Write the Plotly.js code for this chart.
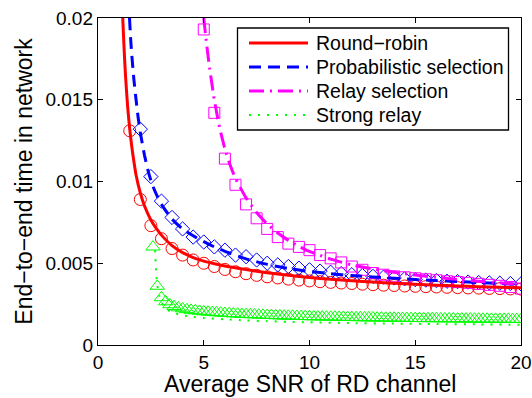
<!DOCTYPE html>
<html>
<head>
<meta charset="utf-8">
<script src="https://cdn.plot.ly/plotly-3.0.1.min.js"></script>
<style>html,body{margin:0;padding:0;background:#fff;}#chart{width:532px;height:398px;}</style>
</head>
<body>
<div id="chart"></div>
<script>
// ---------- data ----------
const seriesNames = ["Round\u2212robin", "Probabilistic selection", "Relay selection", "Strong relay"];
const xTitle = "Average SNR of RD channel";
const yTitle = "End\u2212to\u2212end time in network";

// analytical curves (lines)
const rrLineX = [1.17,1.2,1.25,1.3,1.4,1.5,1.6,1.7,1.8,2.0,2.2,2.5,2.8,3.0,3.5,4.0,4.5,5.0,5.5,6.0,7.0,8.0,9.0,10,11,12,13,14,15,16,17,18,19,20];
const rrLineY = [0.0200,0.0191,0.0177,0.0165,0.0146,0.0132,0.0121,0.0112,0.0104,0.0093,0.0085,0.00765,0.00705,0.00672,0.00608,0.00565,0.00535,0.00513,0.00497,0.00483,0.00461,0.00442,0.00426,0.00413,0.00402,0.00393,0.00385,0.00378,0.00372,0.00366,0.00361,0.00357,0.00353,0.0035];

const psLineX = [1.49,1.55,1.6,1.7,1.8,1.9,2.0,2.2,2.4,2.6,2.8,3.0,3.5,4.0,4.5,5.0,5.5,6.0,7.0,8.0,9.0,10,11,12,13,14,15,16,17,18,19,20];
const psLineY = [0.0200,0.0186,0.0177,0.0162,0.0150,0.0139,0.0130,0.0116,0.0105,0.0097,0.0091,0.0086,0.0077,0.0071,0.00668,0.00632,0.00600,0.00573,0.00527,0.00493,0.00468,0.00450,0.00436,0.00425,0.00416,0.00408,0.00401,0.00394,0.00388,0.00382,0.00376,0.0037];

const rsLineX = [5.0,5.1,5.25,5.5,5.75,6.0,6.25,6.5,7.0,7.5,8.0,8.5,9.0,9.5,10,11,12,13,14,15,16,17,18,19,20];
const rsLineY = [0.0200,0.0188,0.0172,0.0150,0.0133,0.0120,0.0110,0.0102,0.0090,0.0081,0.0074,0.00685,0.0064,0.00603,0.00572,0.00525,0.0049,0.00465,0.00445,0.00428,0.00414,0.00401,0.0039,0.0038,0.0037];

const srLineX = [2.7,2.75,2.8,2.9,3.0,3.2,3.5,4.0,4.5,5.0,6,7,8,9,10,12,14,16,18,20];
const srLineY = [0.0058,0.0045,0.0037,0.0030,0.0026,0.00225,0.0020,0.00182,0.00172,0.00165,0.00157,0.00150,0.00146,0.00142,0.00139,0.00134,0.00131,0.00128,0.00126,0.00124];

// simulation points (markers)
const rrSimX = [1.5,2,2.5,3,3.5,4,4.5,5,5.5,6,6.5,7,7.5,8,8.5,9,9.5,10,10.5,11,11.5,12,12.5,13,13.5,14,14.5,15,15.5,16,16.5,17,17.5,18,18.5,19,19.5,20];
const rrSimY = [0.0131,0.0089,0.0073,0.0065,0.0059,0.0055,0.0052,0.0050,0.0048,0.00462,0.00448,0.00436,0.00426,0.00417,0.0041,0.00403,0.00397,0.00392,0.00387,0.00383,0.00379,0.00376,0.00372,0.00369,0.00366,0.00364,0.00361,0.00359,0.00357,0.00355,0.00353,0.00351,0.00349,0.00348,0.00346,0.00345,0.00343,0.00342];

const psSimX = [2,2.5,3,3.5,4,4.5,5,5.5,6,6.5,7,7.5,8,8.5,9,9.5,10,10.5,11,11.5,12,12.5,13,13.5,14,14.5,15,15.5,16,16.5,17,17.5,18,18.5,19,19.5,20];
const psSimY = [0.0132,0.0103,0.0088,0.0078,0.0071,0.0066,0.0063,0.0060,0.0058,0.0055,0.0054,0.0052,0.0050,0.0049,0.0048,0.0047,0.0046,0.00452,0.00445,0.00437,0.0043,0.00425,0.0042,0.00415,0.0041,0.00405,0.0040,0.00397,0.00394,0.0039,0.00388,0.00385,0.00382,0.0038,0.00378,0.00376,0.00374];

const rsSimX = [5,5.5,6,6.5,7,7.5,8,8.5,9,9.5,10,10.5,11,11.5,12,12.5,13,13.5,14,14.5,15,15.5,16,16.5,17,17.5,18,18.5,19,19.5,20];
const rsSimY = [0.0193,0.0142,0.0114,0.0098,0.0086,0.00775,0.0071,0.0066,0.0062,0.0060,0.0058,0.0055,0.0053,0.00505,0.0048,0.0046,0.0044,0.0043,0.0042,0.00414,0.00408,0.00402,0.00396,0.0039,0.00385,0.0038,0.00374,0.00368,0.00362,0.00355,0.00345];

const srSimX = [2.6,2.8,3.0,3.2,3.4,3.6,3.8,4.0,4.2,4.4,4.6,4.8,5.0,5.2,5.4,5.6,5.8,6.0,6.2,6.4,6.6,6.8,7.0,7.2,7.4,7.6,7.8,8.0,8.2,8.4,8.6,8.8,9.0,9.2,9.4,9.6,9.8,10.0,10.2,10.4,10.6,10.8,11.0,11.2,11.4,11.6,11.8,12.0,12.2,12.4,12.6,12.8,13.0,13.2,13.4,13.6,13.8,14.0,14.2,14.4,14.6,14.8,15.0,15.2,15.4,15.6,15.8,16.0,16.2,16.4,16.6,16.8,17.0,17.2,17.4,17.6,17.8,18.0,18.2,18.4,18.6,18.8,19.0,19.2,19.4,19.6,19.8,20.0];
const srSimY = [0.0060,0.0036,0.0029,0.00265,0.00247,0.00236,0.00228,0.00222,0.00217,0.00213,0.00210,0.00207,0.00204,0.00202,0.00200,0.00198,0.00196,0.00194,0.00193,0.00191,0.00190,0.00188,0.00187,0.00186,0.00185,0.00184,0.00183,0.00182,0.00181,0.00180,0.00179,0.00178,0.00177,0.00177,0.00176,0.00175,0.00175,0.00174,0.00173,0.00173,0.00172,0.00172,0.00171,0.00171,0.00170,0.00170,0.00169,0.00169,0.00168,0.00168,0.00167,0.00167,0.00167,0.00166,0.00166,0.00165,0.00165,0.00165,0.00164,0.00164,0.00164,0.00163,0.00163,0.00163,0.00162,0.00162,0.00162,0.00162,0.00161,0.00161,0.00161,0.00161,0.00160,0.00160,0.00160,0.00160,0.00159,0.00159,0.00159,0.00159,0.00158,0.00158,0.00158,0.00158,0.00158,0.00157,0.00157,0.00157];

const xTickVals = [0,5,10,15,20];
const yTickVals = [0,0.005,0.01,0.015,0.02];
const yTickText = ["0","0.005","0.01","0.015","0.02"];

// ---------- styling ----------
const colors = ["#ff0000","#0000ff","#ff00ff","#00ff00"];
const dashes = ["solid","12px,7px","15px,6px,2px,6px","2px,7px"];
const widths = [3,3,3,2];
const FONT = "Liberation Sans, Arial, Helvetica, sans-serif";

const M = {l:98, r:11, t:18, b:53};
const W = 532, H = 398;
const PW = W - M.l - M.r, PH = H - M.t - M.b;
const px2x = p => (p - M.l) / PW;
const px2y = p => (H - M.b - p) / PH;

function markerTrace(x, y, sym, size, col) {
  return {x:x, y:y, type:"scatter", mode:"markers", showlegend:false, hoverinfo:"skip",
    marker:{symbol:sym, size:size, color:col, line:{color:col, width:1}}, cliponaxis:true};
}
function lineTrace(x, y, i) {
  return {x:x, y:y, type:"scatter", mode:"lines", name:seriesNames[i], showlegend:false, hoverinfo:"skip",
    line:{color:colors[i], width:widths[i], dash:dashes[i], shape:"spline", smoothing:0.6}};
}

const data = [
  markerTrace(rrSimX, rrSimY, "circle-open", 12, colors[0]),
  markerTrace(psSimX, psSimY, "diamond-open", 11, colors[1]),
  markerTrace(rsSimX, rsSimY, "square-open", 11, colors[2]),
  markerTrace(srSimX, srSimY, "triangle-up-open", 12.5, colors[3]),
  lineTrace(rrLineX, rrLineY, 0),
  lineTrace(psLineX, psLineY, 1),
  lineTrace(rsLineX, rsLineY, 2),
  lineTrace(srLineX, srLineY, 3)
];

// custom MATLAB-like legend
const shapes = [{type:"rect", xref:"paper", yref:"paper",
  x0:px2x(237.5), x1:px2x(508.5), y0:px2y(130), y1:px2y(28),
  line:{color:"#000", width:1.3}, fillcolor:"#fff", layer:"above"}];
const rowsPx = [43, 67, 91, 115];
const annotations = [{xref:"paper", yref:"paper", x:0.5, y:px2y(384), xanchor:"center", yanchor:"middle",
  showarrow:false, text:xTitle, font:{family:FONT, size:23, color:"#000"}}];
for (let i = 0; i < seriesNames.length; i++) {
  shapes.push({type:"line", xref:"paper", yref:"paper", layer:"above",
    x0:px2x(249), x1:px2x(308), y0:px2y(rowsPx[i]), y1:px2y(rowsPx[i]),
    line:{color:colors[i], width:widths[i], dash:dashes[i]}});
  annotations.push({xref:"paper", yref:"paper", x:px2x(314), y:px2y(rowsPx[i]),
    xanchor:"left", yanchor:"middle", showarrow:false, text:seriesNames[i],
    font:{family:FONT, size:19.5, color:"#000"}});
}

const axisCommon = {showline:true, linecolor:"#000", linewidth:1.2, mirror:"ticks",
  ticks:"inside", ticklen:5, tickcolor:"#000", tickwidth:1, showgrid:false, zeroline:false,
  tickfont:{family:FONT, size:19, color:"#000"}};

const layout = {
  width:W, height:H, margin:M, paper_bgcolor:"#fff", plot_bgcolor:"#fff",
  showlegend:false,
  font:{family:FONT, color:"#000"},
  xaxis:Object.assign({}, axisCommon, {range:[0,20], tickvals:xTickVals}),
  yaxis:Object.assign({}, axisCommon, {range:[0,0.02], tickvals:yTickVals, ticktext:yTickText,
    title:{text:yTitle, font:{family:FONT, size:23, color:"#000"}, standoff:6}}),
  shapes:shapes, annotations:annotations
};

Plotly.newPlot("chart", data, layout, {staticPlot:true, displayModeBar:false});
</script>
</body>
</html>
